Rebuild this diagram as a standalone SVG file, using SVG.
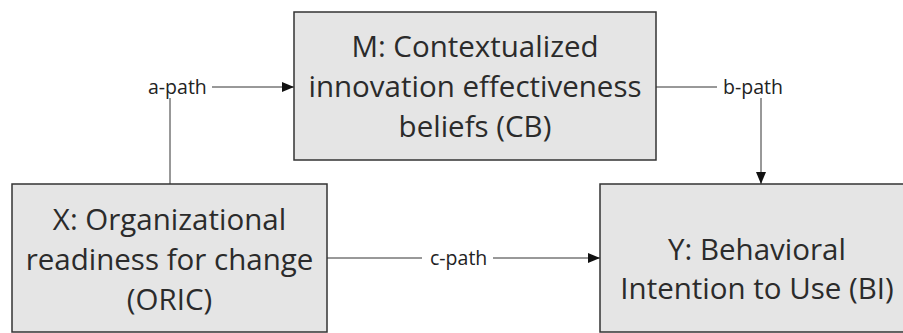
<svg xmlns="http://www.w3.org/2000/svg" width="903" height="333" viewBox="0 0 903 333">
<style>
.box{fill:#e5e5e5;stroke:#333;stroke-width:1.5}
.big{font-family:"Open Sans","Noto Sans",sans-serif;font-size:29.5px;fill:#2b2b2b;text-anchor:middle}
.lbl{font-family:"Open Sans","Noto Sans",sans-serif;font-size:19.5px;fill:#222}
.ln{stroke:#333;stroke-width:1;fill:none}
</style>
<defs>
<marker id="arr" viewBox="0 0 12 10" refX="12" refY="5" markerWidth="12" markerHeight="10" markerUnits="userSpaceOnUse" orient="auto">
<path d="M0,0 L12,5 L0,10 Z" fill="#111"/>
</marker>
</defs>
<g id="connectors">
<path class="ln" d="M170,184 V98"/>
<path class="ln" d="M212,87 H294" marker-end="url(#arr)"/>
<text class="lbl" x="148" y="94">a-path</text>
<path class="ln" d="M656,87 H717"/>
<text class="lbl" x="723" y="94">b-path</text>
<path class="ln" d="M761,98 V184" marker-end="url(#arr)"/>
<path class="ln" d="M327,258 H422"/>
<text class="lbl" x="430" y="265">c-path</text>
<path class="ln" d="M493,258 H600" marker-end="url(#arr)"/>
</g>
<g id="M">
<rect class="box" x="294" y="12" width="362" height="148"/>
<text class="big" x="475" y="57">M: Contextualized</text>
<text class="big" x="475" y="97">innovation effectiveness</text>
<text class="big" x="475" y="137">beliefs (CB)</text>
</g>
<g id="X">
<rect class="box" x="12" y="184" width="315" height="148"/>
<text class="big" x="169.5" y="230">X: Organizational</text>
<text class="big" x="169.5" y="270">readiness for change</text>
<text class="big" x="169.5" y="310">(ORIC)</text>
</g>
<g id="Y">
<rect class="box" x="600" y="184" width="314" height="148"/>
<text class="big" x="757" y="260">Y: Behavioral</text>
<text class="big" x="757" y="299">Intention to Use (BI)</text>
</g>
</svg>
